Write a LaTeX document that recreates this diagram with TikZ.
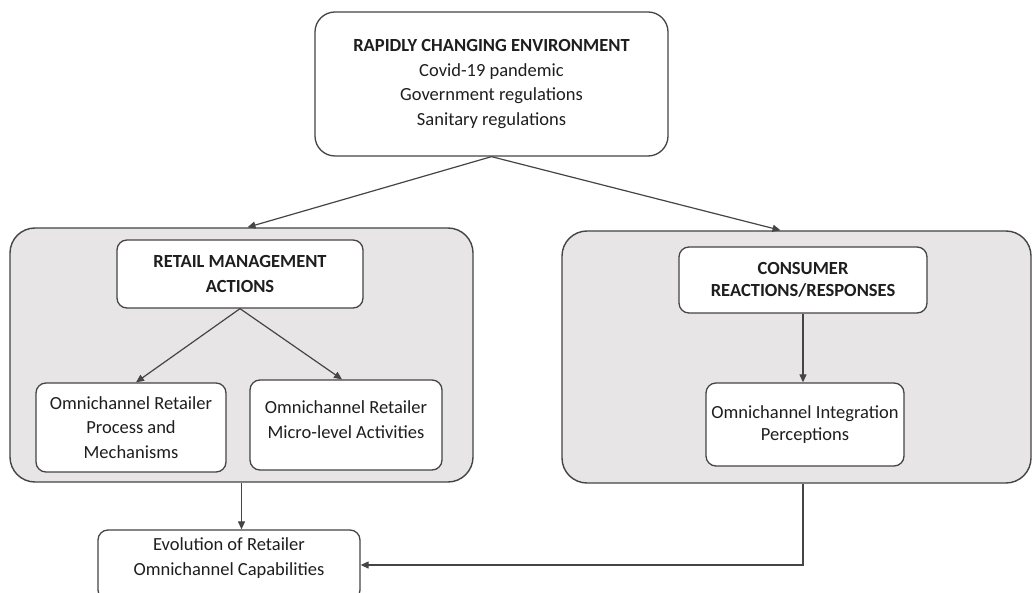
\documentclass[tikz,border=0pt]{standalone}
\usepackage{fontspec}
\setmainfont{Carlito}
\usetikzlibrary{arrows.meta,calc}

\definecolor{edge}{HTML}{454545}
\definecolor{ink}{HTML}{1E1E1E}
\definecolor{panel}{HTML}{E7E5E6}

\tikzset{
  every node/.style={text=ink},
  boxtext/.style={font=\fontsize{18.5}{24.5}\selectfont, align=center},
  panelbox/.style={draw=edge, line width=1.4pt, fill=panel, rounded corners=25pt, inner sep=0pt},
  itembox/.style={draw=edge, line width=1.3pt, fill=white, rounded corners=10pt, inner sep=0pt, boxtext},
  flow/.style={draw=edge, line width=1.2pt, -{Triangle[length=8pt,width=7pt]}}
}

\begin{document}
\begin{tikzpicture}[x=1pt, y=-1pt]
  \useasboundingbox (0,0) rectangle (1033,593);
  \clip (0,0) rectangle (1033,593);
  \fill[white] (0,0) rectangle (1033,593);

  % environment box
  \node[itembox, rounded corners=20pt, minimum width=353pt, minimum height=144pt]
    (env) at (491.5,84) {\textbf{RAPIDLY CHANGING ENVIRONMENT}\\Covid-19 pandemic\\Government regulations\\Sanitary regulations};

  % two grey panels
  \node[panelbox, minimum width=463pt, minimum height=254pt] (rmaPanel) at (241.5,355) {};
  \node[panelbox, minimum width=469pt, minimum height=252pt] (crPanel) at (796.5,357) {};

  % retail management side
  \node[itembox, minimum width=246pt, minimum height=68pt] (rma) at (240,274)
    {\textbf{RETAIL MANAGEMENT}\\\textbf{ACTIONS}};
  \node[itembox, minimum width=190pt, minimum height=89pt] (proc) at (131,427.5)
    {Omnichannel Retailer\\Process and\\Mechanisms};
  \node[itembox, minimum width=192pt, minimum height=90pt,
        label={[boxtext, yshift=5.5pt]center:{Omnichannel Retailer\\Micro-level Activities}}]
    (micro) at (346,425) {};

  % consumer side
  \node[itembox, font=\fontsize{18.5}{22}\selectfont, minimum width=248pt, minimum height=66pt] (cons) at (803,280)
    {\textbf{CONSUMER}\\\textbf{REACTIONS/RESPONSES}};
  \node[itembox, font=\fontsize{18.5}{22}\selectfont, minimum width=198pt, minimum height=83pt] (integ) at (805,424.5)
    {Omnichannel Integration\\Perceptions};

  % outcome box (runs past the lower edge)
  \node[itembox, minimum width=262pt, minimum height=70pt,
        label={[boxtext, yshift=7pt]center:{Evolution of Retailer\\Omnichannel Capabilities}}]
    (evo) at (229,565) {};

  % connectors
  \draw[flow] (env.south) -- ([xshift=6pt]rmaPanel.north);
  \draw[flow] (env.south) -- ([xshift=-16pt]crPanel.north);
  \draw[flow] (rma.south) -- ([xshift=5pt]proc.north);
  \draw[flow] (rma.south) -- ([xshift=-4pt]micro.north);
  \draw[flow] (cons.south) -- (cons.south |- integ.north);
  \draw[flow] (rmaPanel.south) -- (rmaPanel.south |- evo.north);
  \draw[flow] (cons.south |- crPanel.south) |- (evo.east);
\end{tikzpicture}
\end{document}
